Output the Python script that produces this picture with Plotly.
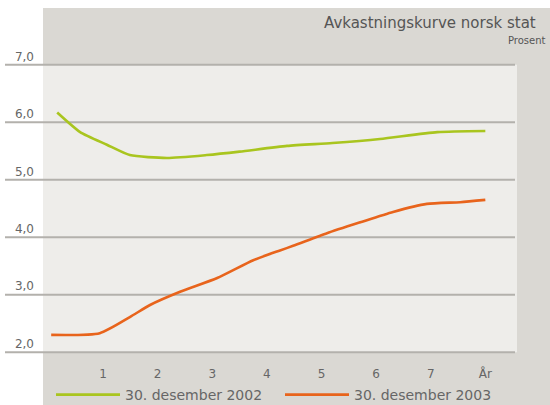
import plotly.graph_objects as go

# Data (years to maturity, percent)
x_2002 = [0.16, 0.58, 1.07, 1.49, 2.17, 2.9, 3.5, 4.37, 5.2, 6.07, 7.12, 8.0]
y_2002 = [6.17, 5.83, 5.61, 5.43, 5.38, 5.43, 5.49, 5.59, 5.64, 5.71, 5.83, 5.85]

x_2003 = [0.05, 0.94, 1.49, 1.86, 2.41, 3.09, 3.75, 4.24, 4.48, 5.10, 5.71, 6.31, 6.93, 7.54, 8.0]
y_2003 = [2.30, 2.33, 2.61, 2.82, 3.05, 3.29, 3.60, 3.77, 3.85, 4.07, 4.26, 4.44, 4.58, 4.61, 4.65]

series_names = ["30. desember 2002", "30. desember 2003"]
series_colors = ["#a9c51f", "#e8641c"]

y_ticks = [2, 3, 4, 5, 6, 7]
x_tickvals = [1, 2, 3, 4, 5, 6, 7, 8]
x_ticktext = ["1", "2", "3", "4", "5", "6", "7", "År"]

title_text = "Avkastningskurve norsk stat"
unit_text = "Prosent"

FONT = "DejaVu Sans"
TXT = "#666666"
OUTER_BG = "#dad8d3"
INNER_BG = "#eeedea"
GRID = "#b3b1ac"

W, H = 550, 405
L, R, T, B = 43, 33, 62, 50
PW, PH = W - L - R, H - T - B


def px(x):
    return (x - L) / PW


def py(y):
    return (H - B - y) / PH


fig = go.Figure()
for xs, ys, name, col in [(x_2002, y_2002, series_names[0], series_colors[0]),
                          (x_2003, y_2003, series_names[1], series_colors[1])]:
    fig.add_trace(go.Scatter(x=xs, y=ys, name=name, mode="lines",
                             line=dict(color=col, width=2.6, shape="spline", smoothing=0.6)))

shapes = [
    # outer patterned panel
    dict(type="rect", xref="paper", yref="paper", x0=0, x1=px(W + 5), y0=py(H + 5), y1=py(8),
         fillcolor=OUTER_BG, line=dict(width=0), layer="below"),
    # inner lighter plot panel
    dict(type="rect", xref="paper", yref="y", x0=0, x1=1, y0=min(y_ticks), y1=max(y_ticks),
         fillcolor=INNER_BG, line=dict(width=0), layer="below"),
]
for v in y_ticks:
    shapes.append(dict(type="line", xref="paper", yref="y", x0=px(5), x1=px(515), y0=v, y1=v,
                       line=dict(color=GRID, width=2), layer="below"))

fig.update_layout(
    width=W, height=H,
    margin=dict(l=L, r=R, t=T, b=B, autoexpand=False),
    paper_bgcolor="white",
    plot_bgcolor="rgba(0,0,0,0)",
    separators=",.",
    font=dict(family=FONT, color=TXT, size=12),
    shapes=shapes,
    showlegend=True,
    legend=dict(orientation="h", xref="container", yref="container",
                x=51 / W, y=(H - 395) / H, xanchor="left", yanchor="middle",
                bgcolor="rgba(0,0,0,0)", itemwidth=64,
                entrywidth=150, entrywidthmode="pixels",
                font=dict(size=14, color=TXT, family=FONT)),
    annotations=[
        dict(text=title_text, xref="paper", yref="paper", x=px(322), y=py(23),
             xanchor="left", yanchor="middle", showarrow=False,
             font=dict(size=15, color="#555555", family=FONT)),
        dict(text=unit_text, xref="paper", yref="paper", x=px(548), y=py(40),
             xanchor="right", yanchor="middle", showarrow=False,
             font=dict(size=10, color="#555555", family=FONT)),
    ],
)
fig.update_xaxes(range=[-0.1, 8.58], tickvals=x_tickvals, ticktext=x_ticktext,
                 showgrid=False, zeroline=False, showline=False, ticks="",
                 ticklabelstandoff=10,
                 tickfont=dict(size=12, color=TXT))
fig.update_yaxes(range=[1.95, 7.05], tickvals=y_ticks, tickformat=".1f",
                 showgrid=False, zeroline=False, showline=False, ticks="",
                 ticklabelposition="outside top", ticklabelstandoff=8,
                 tickfont=dict(size=12, color=TXT))

fig.write_html("out.html", config={"displayModeBar": False},
               post_script="document.body.style.margin='0';document.body.style.overflow='hidden';")
